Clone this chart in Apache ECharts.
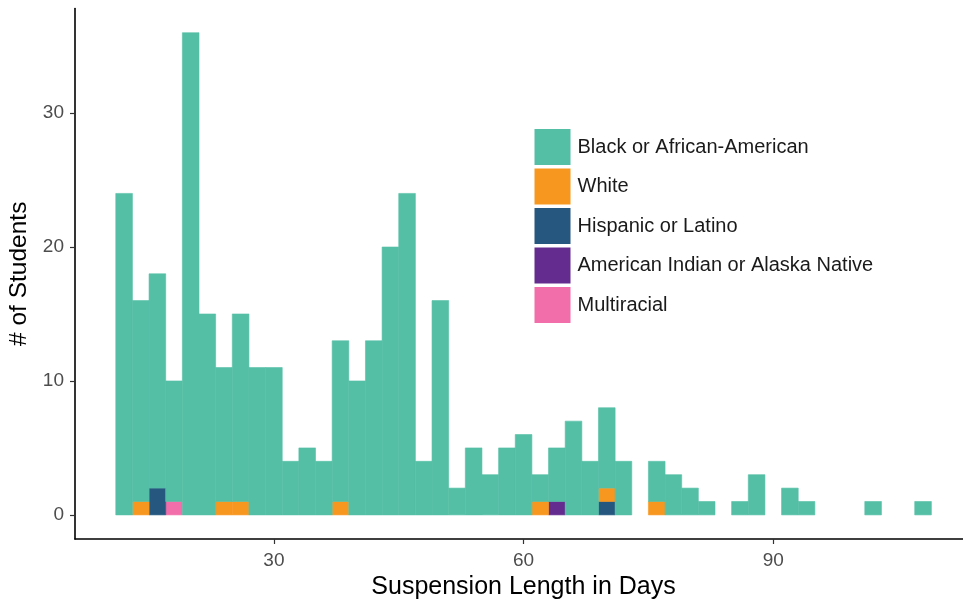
<!DOCTYPE html>
<html>
<head>
<meta charset="utf-8">
<script src="https://cdn.jsdelivr.net/npm/echarts@6/dist/echarts.min.js"></script>
<style>
  html, body { margin: 0; padding: 0; background: #ffffff; }
  #chart { width: 963px; height: 600px; }
</style>
</head>
<body>
<div id="chart"></div>
<script>
// Histogram bins: start of each 2-day bin
const binStarts = [11,13,15,17,19,21,23,25,27,29,31,33,35,37,39,41,43,45,47,49,51,53,55,57,59,61,63,65,67,69,71,73,75,77,79,81,83,85,87,89,91,93,95,97,99,101,103,105,107];
const binWidth = 2;

const black       = [24,15,16,9,36,15,10,14,11,11, 4,5,4,12,10,13,20,24,4,16, 2,5,3,5,6,2,4,7,4,6, 4,0,3,3,2,1,0,1,3,0, 2,1,0,0,0,1,0,0,1];
const white       = [0,1,0,0,0,0,1,1,0,0, 0,0,0,1,0,0,0,0,0,0, 0,0,0,0,0,1,0,0,0,1, 0,0,1,0,0,0,0,0,0,0, 0,0,0,0,0,0,0,0,0];
const hispanic    = [0,0,2,0,0,0,0,0,0,0, 0,0,0,0,0,0,0,0,0,0, 0,0,0,0,0,0,0,0,0,1, 0,0,0,0,0,0,0,0,0,0, 0,0,0,0,0,0,0,0,0];
const amIndian    = [0,0,0,0,0,0,0,0,0,0, 0,0,0,0,0,0,0,0,0,0, 0,0,0,0,0,0,1,0,0,0, 0,0,0,0,0,0,0,0,0,0, 0,0,0,0,0,0,0,0,0];
const multiracial = [0,0,0,1,0,0,0,0,0,0, 0,0,0,0,0,0,0,0,0,0, 0,0,0,0,0,0,0,0,0,0, 0,0,0,0,0,0,0,0,0,0, 0,0,0,0,0,0,0,0,0];

const groupNames = ['Black or African-American','White','Hispanic or Latino','American Indian or Alaska Native','Multiracial'];
const groupColors = ['#55BFA6','#F8971F','#25577F','#652C90','#F26EAA'];

const xTicks = [30, 60, 90];
const yTicks = [0, 10, 20, 30];

// stacking order bottom -> top (first legend level sits on top)
const stackOrder = [
  { name: groupNames[4], values: multiracial, color: groupColors[4] },
  { name: groupNames[3], values: amIndian,    color: groupColors[3] },
  { name: groupNames[2], values: hispanic,    color: groupColors[2] },
  { name: groupNames[1], values: white,       color: groupColors[1] },
  { name: groupNames[0], values: black,       color: groupColors[0] }
];

function renderBin(params, api) {
  const x0 = api.value(0), x1 = api.value(1), y0 = api.value(2), y1 = api.value(3);
  if (!(y1 > y0)) return null;
  const p0 = api.coord([x0, y1]);
  const p1 = api.coord([x1, y0]);
  const c = api.visual('color');
  return {
    type: 'rect',
    shape: { x: p0[0], y: p0[1], width: p1[0] - p0[0], height: p1[1] - p0[1] },
    style: { fill: c, stroke: c, lineWidth: 0.6 }
  };
}

const base = binStarts.map(() => 0);
const series = stackOrder.map(g => {
  const data = binStarts.map((s, i) => {
    const item = [s, s + binWidth, base[i], base[i] + g.values[i]];
    base[i] += g.values[i];
    return item;
  });
  return {
    name: g.name,
    type: 'custom',
    renderItem: renderBin,
    itemStyle: { color: g.color },
    encode: { x: [0, 1], y: [2, 3] },
    data: data,
    z: 2
  };
});

const FONT = "'Liberation Sans', Arial, Helvetica, sans-serif";

const chart = echarts.init(document.getElementById('chart'), null, { renderer: 'canvas' });
chart.setOption({
  animation: false,
  backgroundColor: '#ffffff',
  textStyle: { fontFamily: FONT },
  grid: { left: 75, right: 0, top: 8.6, bottom: 61, containLabel: false, outerBoundsMode: 'none' },
  legend: {
    data: groupNames,
    orient: 'vertical',
    left: 529.5,
    top: 124,
    padding: 5,
    icon: 'rect',
    itemWidth: 36,
    itemHeight: 36,
    itemGap: 3.5,
    selectedMode: false,
    textStyle: { fontFamily: FONT, fontSize: 20, color: '#1a1a1a', padding: [0, 0, 0, 2] }
  },
  xAxis: {
    type: 'value',
    min: 6.1,
    max: 112.8,
    name: 'Suspension Length in Days',
    nameLocation: 'middle',
    nameGap: 36,
    nameTextStyle: { fontFamily: FONT, fontSize: 25, color: '#000000', padding: [0, 0, 0, 9] },
    axisLine: { show: true, onZero: false, lineStyle: { color: '#000000', width: 1.6 } },
    axisTick: { show: true, customValues: xTicks, length: 5, lineStyle: { color: '#333333', width: 1.2 } },
    axisLabel: { customValues: xTicks, fontFamily: FONT, fontSize: 19, color: '#4D4D4D', margin: 12 },
    splitLine: { show: false }
  },
  yAxis: {
    type: 'value',
    min: -1.8,
    max: 37.8,
    name: '# of Students',
    nameLocation: 'middle',
    nameGap: 36,
    nameRotate: 90,
    nameTextStyle: { fontFamily: FONT, fontSize: 24.5, color: '#000000' },
    axisLine: { show: true, onZero: false, lineStyle: { color: '#000000', width: 1.6 } },
    axisTick: { show: true, customValues: yTicks, length: 5, lineStyle: { color: '#333333', width: 1.2 } },
    axisLabel: { customValues: yTicks, fontFamily: FONT, fontSize: 19, color: '#4D4D4D', margin: 11, padding: [6, 0, 0, 0] },
    splitLine: { show: false }
  },
  series: series
});
</script>
</body>
</html>
